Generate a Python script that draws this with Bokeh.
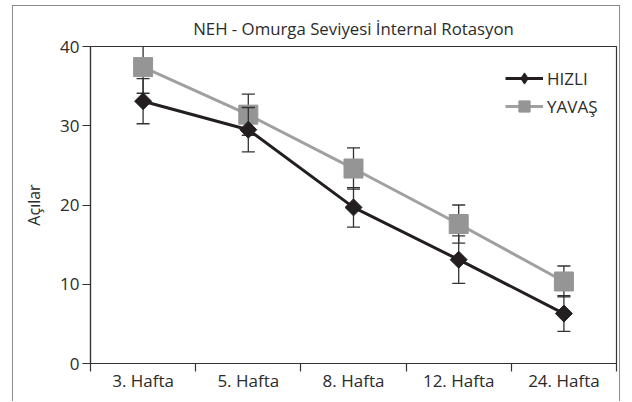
import math
from bokeh.plotting import figure
from bokeh.models import FixedTicker, Legend, LegendItem, ColumnDataSource
from bokeh.embed import file_html
from bokeh.resources import INLINE

# Data
weeks = ["3. Hafta", "5. Hafta", "8. Hafta", "12. Hafta", "24. Hafta"]
hizli = [33.1, 29.5, 19.7, 13.1, 6.3]
hizli_err = [2.85, 2.8, 2.5, 3.0, 2.25]
yavas = [37.4, 31.4, 24.6, 17.6, 10.35]
yavas_err = [3.3, 2.6, 2.6, 2.4, 1.95]
y_ticks = [0, 10, 20, 30, 40]

FONT = "Open Sans"
TEXT = "#2b2b2b"
AXIS = "#333333"
BLACK = "#231f20"
GREY_LINE = "#a0a0a0"
GREY_MARK = "#959595"

xs = [i + 0.5 for i in range(len(weeks))]

p = figure(width=608, height=396, output_backend="svg", toolbar_location=None,
           x_range=(0, len(weeks)), y_range=(0, 40),
           min_border_left=77, min_border_right=5, min_border_top=40, min_border_bottom=39,
           title="NEH - Omurga Seviyesi İnternal Rotasyon")
p.margin = (5, 0, 0, 12)
p.styles = {"border-left": "1px solid #8c8c8c", "border-top": "1px solid #8c8c8c",
            "border-right": "1px solid #8c8c8c"}

p.title.align = "center"
p.title.text_font = FONT
p.title.text_font_size = "16.8px"
p.title.text_font_style = "normal"
p.title.text_color = TEXT
p.title.standoff = 14

p.grid.visible = False
p.outline_line_color = AXIS
p.outline_line_width = 1.2
p.background_fill_color = "white"
p.border_fill_color = "white"

# x axis: labels at category centres, ticks at boundaries
p.xaxis.ticker = FixedTicker(ticks=xs, minor_ticks=list(range(len(weeks) + 1)))
p.xaxis.major_label_overrides = {x: w for x, w in zip(xs, weeks)}
p.xaxis.major_tick_out = 0
p.xaxis.major_tick_in = 0
p.xaxis.minor_tick_out = 8
p.xaxis.minor_tick_in = 0
p.xaxis.minor_tick_line_color = AXIS
p.xaxis.minor_tick_line_width = 1.2
p.xaxis.axis_line_color = AXIS
p.xaxis.axis_line_width = 1.2
p.xaxis.major_label_standoff = -3
p.xaxis.major_label_text_font = FONT
p.xaxis.major_label_text_font_size = "17px"
p.xaxis.major_label_text_color = TEXT

# y axis
p.yaxis.ticker = FixedTicker(ticks=y_ticks, minor_ticks=[])
p.yaxis.major_tick_out = 8
p.yaxis.major_tick_in = 0
p.yaxis.major_tick_line_color = AXIS
p.yaxis.major_tick_line_width = 1.2
p.yaxis.axis_line_color = AXIS
p.yaxis.axis_line_width = 1.2
p.yaxis.major_label_standoff = 3
p.yaxis.major_label_text_font = FONT
p.yaxis.major_label_text_font_size = "17px"
p.yaxis.major_label_text_color = TEXT
p.yaxis.axis_label = "Açılar"
p.yaxis.axis_label_text_font = FONT
p.yaxis.axis_label_text_font_size = "16px"
p.yaxis.axis_label_text_font_style = "normal"
p.yaxis.axis_label_text_color = TEXT
p.yaxis.axis_label_standoff = 12


def series(vals, errs, line_color, marker, size, angle, fill, key_marker=None):
    src = ColumnDataSource(dict(
        x=xs, y=vals,
        lo=[v - e for v, e in zip(vals, errs)],
        hi=[v + e for v, e in zip(vals, errs)],
    ))
    ln = p.line("x", "y", source=src, line_color=line_color, line_width=3)
    p.segment(x0="x", y0="lo", x1="x", y1="hi", source=src, line_color=AXIS, line_width=1.3)
    p.scatter("x", "lo", source=src, marker="dash", size=13, line_color=AXIS, line_width=1.3)
    p.scatter("x", "hi", source=src, marker="dash", size=13, line_color=AXIS, line_width=1.3)
    key = None
    if key_marker is not None:
        # sits fully under the rotated square; its shape is what the legend shows
        key = p.scatter("x", "y", source=src, marker=key_marker, size=14,
                        fill_color=fill, line_color=fill)
    mk = p.scatter("x", "y", source=src, marker=marker, size=size, angle=angle,
                   fill_color=fill, line_color=fill)
    return ln, (key if key is not None else mk)


yl, ym = series(yavas, yavas_err, GREY_LINE, "square", 19, 0, GREY_MARK)
hl, hm = series(hizli, hizli_err, BLACK, "square", 12, math.pi / 4, BLACK, key_marker="diamond")

legend = Legend(items=[LegendItem(label="HIZLI", renderers=[hl, hm]),
                       LegendItem(label="YAVAŞ", renderers=[yl, ym])],
                location=(415, 243), orientation="vertical")
legend.background_fill_alpha = 0
legend.border_line_color = None
legend.padding = 0
legend.margin = 0
legend.glyph_width = 38
legend.glyph_height = 28
legend.label_height = 16
legend.spacing = 0
legend.label_standoff = 4
legend.label_text_font = FONT
legend.label_text_font_size = "17px"
legend.label_text_color = TEXT
p.add_layout(legend)

open("out.html", "w").write(file_html(p, INLINE))
